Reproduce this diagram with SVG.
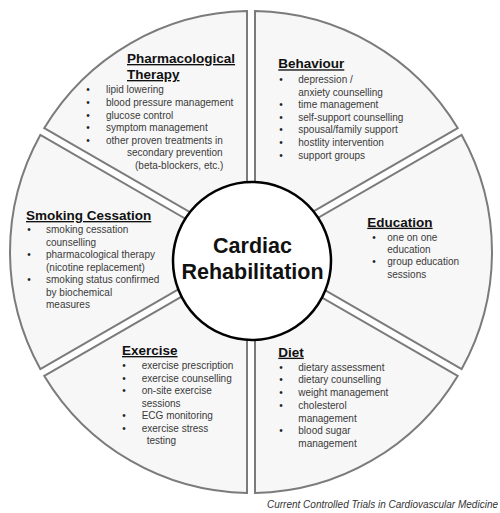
<svg xmlns="http://www.w3.org/2000/svg" width="500" height="513" viewBox="0 0 500 513">
<style>
.seg{fill:#f7f7f7;stroke:#7b7b7b;stroke-width:2;stroke-linejoin:miter}
.t{font-family:"Liberation Sans",Arial,sans-serif;font-size:13.5px;font-weight:bold;fill:#111;text-decoration:underline}
.b{font-family:"Liberation Sans",Arial,sans-serif;font-size:10px;fill:#3a3a3a}
.d{font-family:"Liberation Sans",Arial,sans-serif;font-size:10px;fill:#222;text-anchor:middle}
.c{font-family:"Liberation Sans",Arial,sans-serif;font-size:21.5px;font-weight:bold;fill:#111;text-anchor:middle}
.cap{font-family:"Liberation Sans",Arial,sans-serif;font-size:10px;font-style:italic;fill:#333;text-anchor:end}
</style>
<rect width="500" height="513" fill="#fff"/>
<g id="behaviour">
<path class="seg" d="M255,245.07 L457.68,128.06 A241,241 0 0 0 255,11.03 Z"/>
<text class="t" x="278.3" y="68.3">Behaviour</text>
<text class="d" x="281" y="83.3">•</text><text class="b" x="298.3" y="83.3">depression /</text>
<text class="b" x="298.3" y="95.8">anxiety counselling</text>
<text class="d" x="281" y="108.3">•</text><text class="b" x="298.3" y="108.3">time management</text>
<text class="d" x="281" y="120.8">•</text><text class="b" x="298.3" y="120.8">self-support counselling</text>
<text class="d" x="281" y="133.3">•</text><text class="b" x="298.3" y="133.3">spousal/family support</text>
<text class="d" x="281" y="146.3">•</text><text class="b" x="298.3" y="146.3">hostlity intervention</text>
<text class="d" x="281" y="159">•</text><text class="b" x="298.3" y="159">support groups</text>
</g>
<g id="education">
<path class="seg" d="M259,252 L461.68,369.02 A241,241 0 0 0 461.68,134.98 Z"/>
<text class="t" x="367.3" y="226.7">Education</text>
<text class="d" x="374" y="240.7">•</text><text class="b" x="387.3" y="240.7">one on one</text>
<text class="b" x="387.3" y="253">education</text>
<text class="d" x="374" y="265.2">•</text><text class="b" x="387.3" y="265.2">group education</text>
<text class="b" x="387.3" y="277.5">sessions</text>
</g>
<g id="diet">
<path class="seg" d="M255,258.93 L255,492.97 A241,241 0 0 0 457.68,375.95 Z"/>
<text class="t" x="278.3" y="356.7">Diet</text>
<text class="d" x="281" y="370.7">•</text><text class="b" x="298.3" y="370.7">dietary assessment</text>
<text class="d" x="281" y="383.4">•</text><text class="b" x="298.3" y="383.4">dietary counselling</text>
<text class="d" x="281" y="396.3">•</text><text class="b" x="298.3" y="396.3">weight management</text>
<text class="d" x="281" y="409">•</text><text class="b" x="298.3" y="409">cholesterol</text>
<text class="b" x="298.3" y="421.7">management</text>
<text class="d" x="281" y="434.2">•</text><text class="b" x="298.3" y="434.2">blood sugar</text>
<text class="b" x="298.3" y="446.8">management</text>
</g>
<g id="exercise">
<path class="seg" d="M247,258.93 L44.32,375.95 A241,241 0 0 0 247,492.97 Z"/>
<text class="t" x="122" y="355">Exercise</text>
<text class="d" x="124" y="369.3">•</text><text class="b" x="141.7" y="369.3">exercise prescription</text>
<text class="d" x="124" y="381.8">•</text><text class="b" x="141.7" y="381.8">exercise counselling</text>
<text class="d" x="124" y="394.3">•</text><text class="b" x="141.7" y="394.3">on-site exercise</text>
<text class="b" x="141.7" y="406.8">sessions</text>
<text class="d" x="124" y="419.3">•</text><text class="b" x="141.7" y="419.3">ECG monitoring</text>
<text class="d" x="124" y="431.8">•</text><text class="b" x="141.7" y="431.8">exercise stress</text>
<text class="b" x="146.7" y="444.2">testing</text>
</g>
<g id="smoking">
<path class="seg" d="M243,252 L40.32,134.98 A241,241 0 0 0 40.32,369.02 Z"/>
<text class="t" x="26" y="220">Smoking Cessation</text>
<text class="d" x="29" y="233.2">•</text><text class="b" x="46" y="233.2">smoking cessation</text>
<text class="b" x="46" y="245.8">counselling</text>
<text class="d" x="29" y="258.3">•</text><text class="b" x="46" y="258.3">pharmacological therapy</text>
<text class="b" x="46" y="270.7">(nicotine replacement)</text>
<text class="d" x="29" y="283.2">•</text><text class="b" x="46" y="283.2">smoking status confirmed</text>
<text class="b" x="46" y="295.7">by biochemical</text>
<text class="b" x="46" y="308">measures</text>
</g>
<g id="pharmacological">
<path class="seg" d="M247,245.07 L247,11.03 A241,241 0 0 0 44.32,128.06 Z"/>
<text class="t" x="127" y="63">Pharmacological</text>
<text class="t" x="127" y="79">Therapy</text>
<text class="d" x="88" y="93.3">•</text><text class="b" x="106" y="93.3">lipid lowering</text>
<text class="d" x="88" y="105.9">•</text><text class="b" x="106" y="105.9">blood pressure management</text>
<text class="d" x="88" y="118.5">•</text><text class="b" x="106" y="118.5">glucose control</text>
<text class="d" x="88" y="131.1">•</text><text class="b" x="106" y="131.1">symptom management</text>
<text class="d" x="88" y="143.7">•</text><text class="b" x="106" y="143.7">other proven treatments in</text>
<text class="b" x="127" y="156.3">secondary prevention</text>
<text class="b" x="135" y="168.6">(beta-blockers, etc.)</text>
</g>
<g id="connectors"></g>
<g id="center">
<circle cx="252" cy="261" r="79" fill="#fff" stroke="#000" stroke-width="2.5"/>
<text class="c" x="252.5" y="253">Cardiac</text>
<text class="c" x="252.5" y="279">Rehabilitation</text>
</g>
<text class="cap" x="498" y="508">Current Controlled Trials in Cardiovascular Medicine</text>
</svg>
